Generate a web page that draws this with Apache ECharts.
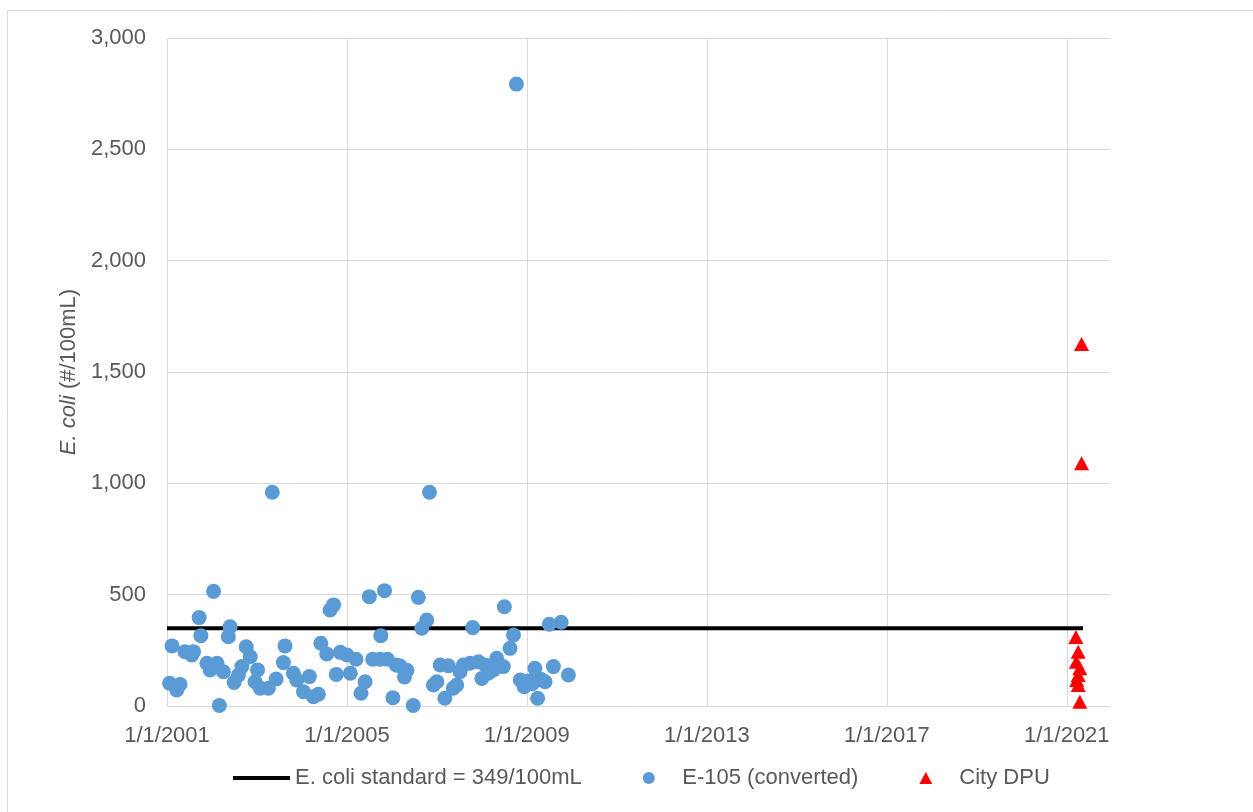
<!DOCTYPE html>
<html>
<head>
<meta charset="utf-8">
<title>E. coli</title>
<script src="https://cdn.jsdelivr.net/npm/echarts@6/dist/echarts.min.js"></script>
<style>
  html, body { margin: 0; padding: 0; background: #ffffff; }
  #chart { width: 1253px; height: 812px; }
</style>
</head>
<body>
<div id="chart"></div>
<script>
// E-105 samples (converted), #/100mL
const e105Dates = [
  '2001-01-22','2001-02-11','2001-03-21','2001-04-17','2001-05-27','2001-07-21','2001-08-04','2001-09-19',
  '2001-10-03','2001-11-21','2001-12-17','2002-01-14','2002-02-11','2002-03-02','2002-04-04','2002-05-14',
  '2002-05-28','2002-06-30','2002-08-04','2002-09-01','2002-10-06','2002-11-08','2002-12-17','2003-01-06',
  '2003-01-28','2003-04-04','2003-05-06','2003-06-06','2003-08-04','2003-08-17','2003-10-24','2003-11-21',
  '2004-01-14','2004-03-02','2004-04-04','2004-05-14','2004-06-03','2004-07-21','2004-08-17','2004-09-14',
  '2004-10-06','2004-11-08','2005-01-01','2005-01-28','2005-03-15','2005-04-25','2005-05-28','2005-07-02',
  '2005-07-29','2005-09-27','2005-10-03','2005-11-02','2005-11-26','2006-01-09','2006-02-05','2006-03-07',
  '2006-04-13','2006-05-03','2006-06-23','2006-08-04','2006-09-01','2006-10-11','2006-11-02','2006-12-04',
  '2007-01-01','2007-01-28','2007-03-07','2007-04-04','2007-05-14','2007-06-11','2007-07-08','2007-08-04',
  '2007-09-27','2007-10-19','2007-12-04','2008-01-01','2008-01-28','2008-02-23','2008-04-04','2008-05-01',
  '2008-06-23','2008-07-02','2008-08-17','2008-09-14','2008-10-08','2008-11-08','2008-12-10','2009-01-08',
  '2009-02-13','2009-03-07','2009-03-21','2009-03-29','2009-04-25','2009-05-28','2009-07-02','2009-08-04',
  '2009-10-06','2009-12-04'
];
const e105Values = [
  102, 270, 72, 97, 244, 229, 244, 397,
  316, 192, 162, 515, 192, 2, 154, 311,
  356, 106, 139, 177, 266, 221, 109, 162,
  80, 80, 960, 121, 195, 270, 147, 117,
  64, 132, 42, 53, 282, 234, 431, 454,
  142, 241, 229, 147, 210, 57, 109, 491,
  210, 210, 316, 518, 210, 37, 184, 180,
  130, 160, 2, 488, 349, 386, 960, 94,
  109, 184, 35, 181, 80, 94, 154, 184,
  192, 352, 199, 124, 184, 147, 162, 214,
  177, 446, 259, 319, 2793, 117, 87, 112,
  100, 169, 117, 35, 120, 109, 367, 177,
  376, 139
];

// City DPU samples, #/100mL
const dpuDates = [
  '2021-03-16','2021-04-04','2021-03-20','2021-04-17','2021-04-04',
  '2021-03-23','2021-04-04','2021-04-17','2021-05-01','2021-05-01'
];
const dpuValues = [310, 244, 199, 169, 139, 117, 94, 19, 1626, 1090];

// E. coli standard
const standardDates = ['2001-01-01', '2021-05-13'];
const standardValue = 349;

// Axis settings
const axisStartDate = '2001-01-01';
const axisEndDate = '2021-12-18';
const yTicks = [0, 500, 1000, 1500, 2000, 2500, 3000];

const DAY = 86400000;
const parseUTC = s => { const p = s.split('-').map(Number); return Date.UTC(p[0], p[1] - 1, p[2]); };
const origin = parseUTC(axisStartDate);
const toDays = s => Math.round((parseUTC(s) - origin) / DAY);
const fmtDate = d => {
  const t = new Date(origin + d * DAY);
  return (t.getUTCMonth() + 1) + '/' + t.getUTCDate() + '/' + t.getUTCFullYear();
};

const FONT = "'Liberation Sans', Arial, sans-serif";
const TEXT = '#595959';
const GRID = '#d9d9d9';
const xStep = 1461; // four years in days

const chart = echarts.init(document.getElementById('chart'), null, { renderer: 'canvas' });

chart.setOption({
  animation: false,
  backgroundColor: '#ffffff',
  textStyle: { fontFamily: FONT },
  graphic: [{
    type: 'rect',
    shape: { x: 7.5, y: 10.5, width: 1300, height: 900 },
    style: { fill: 'none', stroke: GRID, lineWidth: 1 },
    silent: true,
    z: -10
  }],
  grid: { left: 167, right: 143, top: 38, bottom: 106, containLabel: false },
  legend: {
    left: 233,
    top: 767,
    padding: 0,
    itemWidth: 57,
    itemHeight: 12,
    itemGap: 61,
    symbolKeepAspect: true,
    textStyle: { color: TEXT, fontSize: 22, fontFamily: FONT },
    data: [
      { name: 'E. coli standard = 349/100mL', icon: 'path://M0,0 L57,0 L57,4 L0,4 Z', itemStyle: { color: '#000000' } },
      { name: 'E-105 (converted)', icon: 'circle' },
      { name: 'City DPU', icon: 'path://M7,0 L14,13 L0,13 Z' }
    ]
  },
  xAxis: {
    type: 'value',
    min: 0,
    max: toDays(axisEndDate),
    interval: xStep,
    axisLine: { show: false },
    axisTick: { show: false },
    axisLabel: {
      color: TEXT, fontSize: 22, fontFamily: FONT, margin: 19,
      showMaxLabel: false,
      formatter: v => (v % xStep === 0 ? fmtDate(v) : '')
    },
    splitLine: {
      show: true,
      lineStyle: { color: [GRID, GRID, GRID, GRID, GRID, GRID, 'rgba(0,0,0,0)'], width: 1 }
    }
  },
  yAxis: {
    type: 'value',
    min: yTicks[0],
    max: yTicks[yTicks.length - 1],
    interval: yTicks[1] - yTicks[0],
    axisLine: { show: false },
    axisTick: { show: false },
    axisLabel: {
      color: TEXT, fontSize: 22, fontFamily: FONT, margin: 21,
      formatter: v => v.toLocaleString('en-US')
    },
    splitLine: { show: true, lineStyle: { color: GRID, width: 1 } },
    name: '{i|E. coli} (#/100mL)',
    nameLocation: 'middle',
    nameRotate: 90,
    nameGap: 82,
    nameTextStyle: {
      color: TEXT, fontSize: 22, fontFamily: FONT,
      rich: { i: { fontStyle: 'italic', color: TEXT, fontSize: 22, fontFamily: FONT } }
    }
  },
  series: [
    {
      name: 'E. coli standard = 349/100mL',
      type: 'line',
      symbol: 'none',
      lineStyle: { color: '#000000', width: 4, cap: 'butt' },
      itemStyle: { color: '#000000' },
      data: standardDates.map(d => [toDays(d), standardValue]),
      z: 2
    },
    {
      name: 'E-105 (converted)',
      type: 'scatter',
      symbol: 'circle',
      symbolSize: 15,
      itemStyle: { color: '#5b9bd5', opacity: 1 },
      data: e105Dates.map((d, i) => [toDays(d), e105Values[i]]),
      z: 3
    },
    {
      name: 'City DPU',
      type: 'scatter',
      symbol: 'triangle',
      symbolSize: [15, 14],
      itemStyle: { color: '#ff0000', opacity: 1 },
      data: dpuDates.map((d, i) => [toDays(d), dpuValues[i]]),
      z: 4
    }
  ]
});
</script>
</body>
</html>
